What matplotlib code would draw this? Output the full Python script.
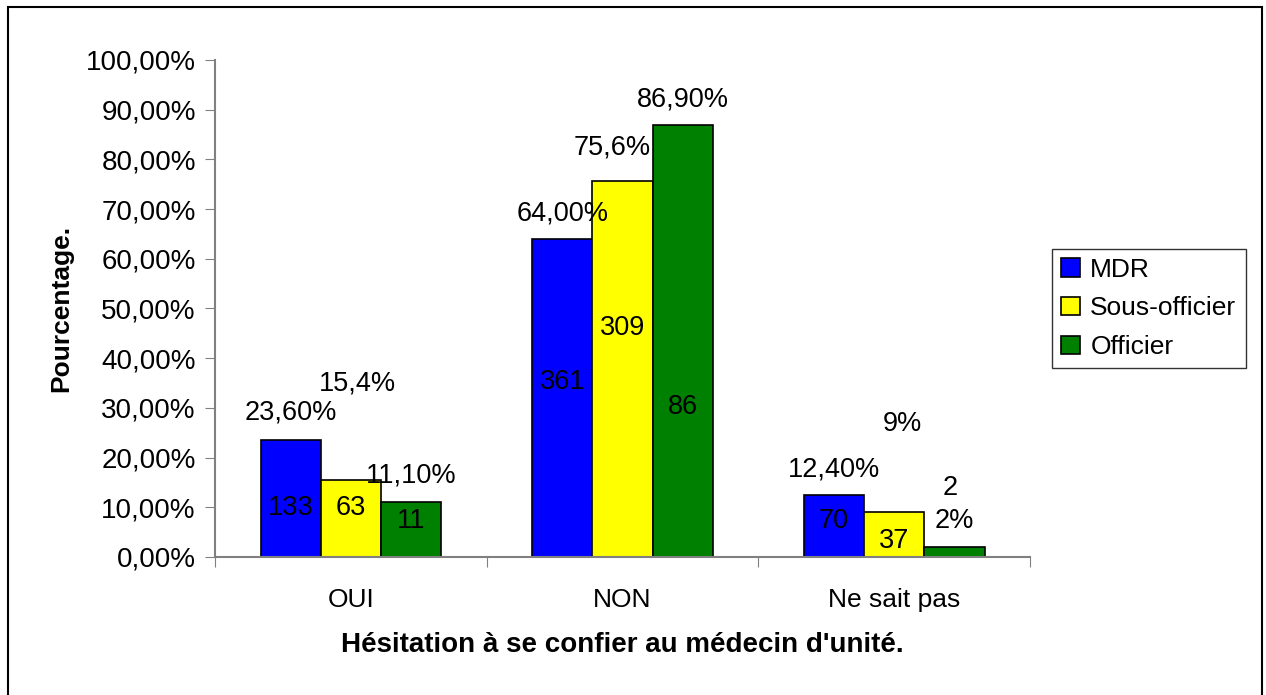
import numpy as np
import matplotlib.pyplot as plt
from matplotlib.patches import Rectangle

plt.rcParams['font.family'] = ['Liberation Sans', 'DejaVu Sans']

categories = ["OUI", "NON", "Ne sait pas"]
series = ["MDR", "Sous-officier", "Officier"]
colors = ["#0000FF", "#FFFF00", "#008000"]

pct_mdr = [23.6, 64.0, 12.4]
pct_sous = [15.4, 75.6, 9.0]
pct_off = [11.1, 86.9, 2.0]

pct_labels = [["23,60%", "64,00%", "12,40%"],
              ["15,4%", "75,6%", "9%"],
              ["11,10%", "86,90%", "2%"]]
count_labels = [["133", "361", "70"],
                ["63", "309", "37"],
                ["11", "86", "2"]]

# where the labels sit (Excel left them scattered): x offset in bar widths, y in %
pct_pos = [[(0.0, 29.0), (0.0, 69.2), (0.0, 17.7)],
           [(0.1, 35.0), (-0.18, 82.3), (0.13, 26.8)],
           [(0.0, 16.3), (0.0, 92.0), (0.0, 7.2)]]
cnt_pos = [[(0.0, 9.9), (0.0, 35.2), (0.0, 7.2)],
           [(0.0, 9.9), (0.0, 46.1), (0.0, 3.2)],
           [(0.0, 7.2), (0.0, 30.2), (-0.08, 13.9)]]

values = [pct_mdr, pct_sous, pct_off]

fig = plt.figure(figsize=(12.66, 6.95), dpi=100)
# outer frame, its bottom edge runs off the picture as in the reference
fig.patches.append(Rectangle((0.006, -0.02), 0.9905, 1.01, transform=fig.transFigure,
                             fill=False, edgecolor='black', linewidth=1.5))
ax = fig.add_axes([0.170, 0.1986, 0.6436, 0.7151])

x = np.arange(len(categories))
w = 0.222
for i, (name, vals, col) in enumerate(zip(series, values, colors)):
    xs = x + (i - 1) * w
    ax.bar(xs, vals, width=w, color=col, edgecolor='black', linewidth=1.2, label=name)
    for j in range(len(categories)):
        dx, yy = pct_pos[i][j]
        ax.text(xs[j] + dx * w, yy, pct_labels[i][j], ha='center', va='center', fontsize=19.5)
        dx, yy = cnt_pos[i][j]
        ax.text(xs[j] + dx * w, yy, count_labels[i][j], ha='center', va='center', fontsize=19.5)

ax.set_xlim(-0.5, 2.5)
ax.set_ylim(0, 100)
ax.set_yticks(np.arange(0, 101, 10))
ax.set_yticklabels([f"{v:.2f}%".replace('.', ',') for v in np.arange(0, 101, 10)], fontsize=20)
ax.set_xticks([-0.5, 0.5, 1.5, 2.5])
ax.set_xticklabels([])
ax.set_xticks(x, minor=True)
ax.set_xticklabels(categories, minor=True, fontsize=19)
ax.tick_params(axis='x', which='minor', length=0, pad=22)
ax.tick_params(axis='x', which='major', length=7, color='#808080', direction='out')
ax.tick_params(axis='y', length=7, color='#808080', pad=7)
for s in ['top', 'right']:
    ax.spines[s].set_visible(False)
for s in ['left', 'bottom']:
    ax.spines[s].set_color('#808080')
    ax.spines[s].set_linewidth(1.5)

ax.set_ylabel("Pourcentage.", fontsize=19, fontweight='bold', labelpad=9)
ax.set_xlabel("Hésitation à se confier au médecin d'unité.", fontsize=20, fontweight='bold', labelpad=15)

leg = ax.legend(loc='center left', bbox_to_anchor=(1.027, 0.5), fontsize=19, frameon=True,
                fancybox=False, edgecolor='black', handlelength=0.7, handleheight=0.7,
                handletextpad=0.4, labelspacing=0.55, borderpad=0.35, borderaxespad=0)
leg.get_frame().set_linewidth(1.0)

fig.savefig("out.png", dpi=100, facecolor='white')
